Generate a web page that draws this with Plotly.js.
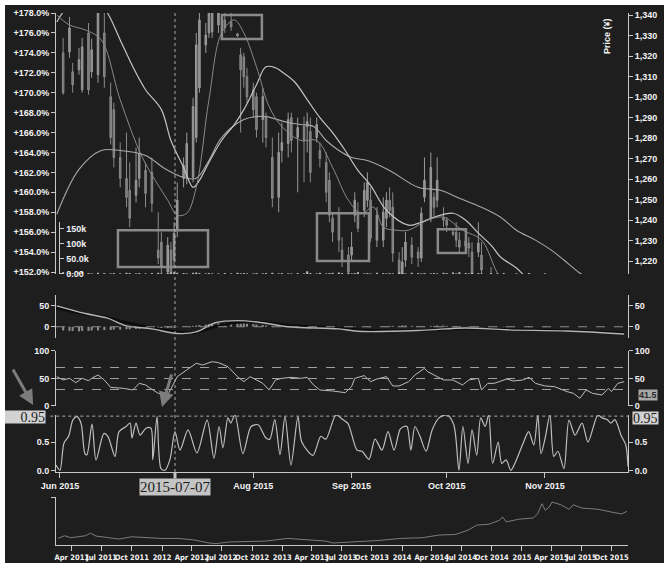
<!DOCTYPE html>
<html><head><meta charset="utf-8">
<script src="https://cdn.plot.ly/plotly-3.0.1.min.js"></script>
<style>
html,body{margin:0;padding:0;background:#ffffff;}
#chart{position:absolute;left:5px;top:5px;width:659px;height:558px;}
</style></head><body><div id="chart"></div><script>
// ---------------- DATA ----------------
const candleDates = ['2015-06-02','2015-06-04','2015-06-05','2015-06-07','2015-06-08','2015-06-10','2015-06-11','2015-06-13','2015-06-15','2015-06-17',
'2015-06-18','2015-06-20','2015-06-22','2015-06-23','2015-06-25','2015-06-26','2015-06-28','2015-06-30','2015-07-02','2015-07-03',
'2015-07-05','2015-07-06','2015-07-07','2015-07-08','2015-07-10','2015-07-11','2015-07-13','2015-07-14','2015-07-15','2015-07-17',
'2015-07-18','2015-07-19','2015-07-21','2015-07-23','2015-07-25','2015-07-27','2015-07-28','2015-07-29','2015-07-30','2015-08-01',
'2015-08-02','2015-08-04','2015-08-05','2015-08-07','2015-08-09','2015-08-10','2015-08-12','2015-08-13','2015-08-15','2015-08-17',
'2015-08-18','2015-08-19','2015-08-21','2015-08-22','2015-08-24','2015-08-25','2015-08-26','2015-08-28','2015-08-29','2015-08-31',
'2015-09-01','2015-09-02','2015-09-03','2015-09-05','2015-09-06','2015-09-07','2015-09-09','2015-09-11','2015-09-12','2015-09-13',
'2015-09-14','2015-09-16','2015-09-17','2015-09-18','2015-09-20','2015-09-22','2015-09-23','2015-09-24','2015-09-26','2015-09-27',
'2015-09-28','2015-09-30','2015-10-01','2015-10-03','2015-10-04','2015-10-05','2015-10-07','2015-10-08','2015-10-09','2015-10-11',
'2015-10-12','2015-10-15','2015-10-17','2015-10-19','2015-10-23','2015-10-27','2015-11-01'];
const candleOpen = [174.0,174.1,172.1,172.3,170.3,176.0,172.1,171.8,176.0,169.6,
168.3,163.5,161.4,160.2,159.7,161.4,162.2,162.0,154.2,155.0,
152.0,154.2,153.2,156.2,161.4,161.5,161.5,165.5,170.5,174.8,
176.0,176.1,176.8,177.3,177.1,175.9,173.8,173.6,171.6,170.3,
169.6,167.3,167.5,163.5,159.5,164.2,164.9,167.5,165.5,166.6,
166.6,166.1,165.5,164.2,163.0,161.2,157.4,157.9,154.2,153.7,
153.7,157.7,158.0,158.2,159.2,159.2,155.2,155.2,157.4,159.2,
158.5,153.2,151.7,153.2,154.7,154.0,153.4,159.5,157.4,159.5,
159.2,157.5,157.2,156.0,156.0,155.2,154.6,154.9,154.0,154.0,
153.7,151.5,150.5,149.5,148.5,148.0,147.0];
const candleClose = [170.0,176.5,170.8,173.3,174.6,170.3,174.3,178.0,171.6,165.5,
163.5,161.4,159.5,157.4,161.2,163.9,159.9,158.9,153.4,152.5,
154.7,151.7,155.9,159.2,162.7,164.9,168.6,174.8,177.3,175.8,
178.0,178.0,178.0,176.5,176.6,175.7,172.3,171.6,169.6,168.3,
166.3,169.6,165.5,159.4,164.0,165.0,167.3,165.2,166.5,165.2,
167.1,162.0,166.8,163.4,160.0,157.7,156.0,155.2,153.2,152.0,
154.5,159.2,156.4,160.2,161.0,155.4,157.7,158.0,159.2,158.2,
153.9,151.7,153.0,155.0,153.5,153.4,157.9,161.2,162.5,158.5,
161.2,157.2,156.7,155.8,155.2,154.5,155.1,154.4,151.5,154.9,
152.2,150.0,149.2,148.0,147.5,147.0,146.0];
const candleHigh = [175.5,177.6,173.0,174.5,175.5,177.0,175.4,179.0,178.5,171.0,
169.0,165.0,166.0,163.0,164.5,165.5,163.0,163.5,158.0,156.0,
155.5,155.0,157.0,161.0,163.5,166.0,169.5,176.0,178.5,177.0,
179.0,179.5,179.5,178.5,178.2,176.0,174.5,174.0,172.5,171.0,
170.0,170.5,168.0,165.5,166.0,167.0,168.0,168.0,167.5,167.6,
168.0,167.5,167.5,165.0,164.0,162.0,158.0,158.5,155.5,154.5,
156.0,160.0,159.0,161.0,162.0,160.5,158.5,159.5,160.0,160.5,
160.0,154.0,154.5,156.0,155.5,154.5,158.5,163.5,164.0,160.0,
163.5,158.5,157.5,156.2,157.0,156.0,156.0,155.5,155.0,157.0,
155.0,152.5,151.0,150.5,151.3,150.0,151.5];
const candleLow = [169.8,173.5,170.0,171.8,170.0,169.8,171.5,171.0,170.5,164.8,
162.5,160.5,158.5,156.5,159.0,160.5,158.5,158.0,152.8,151.8,
151.0,150.5,152.5,155.5,160.5,160.8,161.0,165.0,170.0,174.0,
175.5,175.5,176.0,176.0,176.2,175.6,166.0,170.5,169.0,167.5,
165.5,165.0,164.5,158.5,158.0,163.0,163.5,164.0,160.0,161.0,
164.0,161.0,165.0,162.5,159.0,157.0,155.0,154.0,152.5,151.0,
153.0,157.0,156.0,157.5,158.5,155.0,154.5,154.5,156.5,157.5,
153.0,150.5,150.0,152.5,152.8,152.5,153.0,159.0,157.0,157.5,
158.5,156.5,156.0,155.6,154.5,154.0,154.0,153.5,150.5,153.5,
151.0,149.5,148.5,147.5,147.0,146.5,145.5];
const volume = [6000,4000,3000,5000,8000,3000,2000,4000,3000,2000,
3000,2000,4000,3000,2000,3000,2000,3000,4000,2000,
3000,5000,6000,4000,3000,2000,4000,5000,3000,2000,
3000,2000,2000,3000,2000,4000,2000,3000,2000,2000,
3000,2000,3000,4000,2000,3000,2000,2000,3000,2000,
9000,3000,2000,4000,2000,3000,4000,5000,3000,4000,
2000,3000,6000,2000,3000,2000,4000,3000,2000,3000,
2000,5000,3000,2000,4000,3000,2000,3000,2000,3000,
2000,4000,3000,5000,2000,6000,3000,2000,4000,3000,
2000,3000,2000,3000,2000,3000,2000];
const macdHist = [-9,-10,-10,-11,-10,-10,-9,-9,-8,-8,
-7,-7,-6,-6,-5,-5,-4,-4,-4,-3,
-3,-2,-2,-1,0,1,2,3,4,5,
6,7,8,8,9,9,8,8,7,6,
5,4,3,2,1,0,-1,-2,-3,-3,
-4,-4,-3,-3,-2,-2,-1,-1,0,0,
1,1,0,0,-1,-1,0,1,1,2,
2,2,3,3,2,2,1,1,2,2,
3,3,2,1,1,0,0,-1,-1,0,
0,0,-1,-1,0,-1,-1];

const ma20Dates = ['2015-05-31','2015-06-02','2015-06-07','2015-06-12','2015-06-16','2015-06-20','2015-06-24','2015-06-28','2015-07-03','2015-07-06',
'2015-07-10','2015-07-13','2015-07-15','2015-07-18','2015-07-22','2015-07-26','2015-07-29','2015-08-02','2015-08-05','2015-08-08',
'2015-08-10','2015-08-14','2015-08-18','2015-08-22','2015-08-26','2015-08-30','2015-09-03','2015-09-07','2015-09-12','2015-09-19',
'2015-09-23','2015-09-27','2015-10-03','2015-10-07','2015-10-11','2015-10-15','2015-10-18','2015-10-23','2015-10-26','2015-11-01',
'2015-11-18','2015-11-27'];
const ma20Values = [177.1,178.1,179.8,179.6,178.0,175.3,172.6,170.3,168.3,165.2,
162.5,160.5,161.2,163.0,165.2,166.8,168.3,170.8,172.6,172.5,
172.1,171.1,169.3,167.5,166.0,164.2,162.2,160.7,158.2,156.7,
157.0,157.5,157.9,157.2,155.9,154.7,153.5,152.4,151.5,150.2,
147.2,146.2];
const ma50Dates = ['2015-05-31','2015-06-07','2015-06-14','2015-06-20','2015-06-28','2015-07-04','2015-07-10','2015-07-14','2015-07-18','2015-07-22',
'2015-07-29','2015-08-02','2015-08-05','2015-08-12','2015-08-16','2015-08-20','2015-08-24','2015-08-28','2015-09-01','2015-09-06',
'2015-09-13','2015-09-22','2015-09-29','2015-10-05','2015-10-12','2015-10-18','2015-10-23','2015-10-29','2015-11-03','2015-11-07',
'2015-11-12','2015-11-18','2015-11-27'];
const ma50Values = [157.8,162.3,164.2,164.2,163.7,162.4,161.5,161.4,163.2,165.5,
167.3,167.6,167.6,167.0,166.8,166.6,165.2,164.2,163.5,163.2,
162.2,160.5,160.2,159.4,158.5,157.5,156.2,155.2,154.2,153.2,
151.9,150.7,149.2];
const ma5Dates = ['2015-05-31','2015-06-04','2015-06-09','2015-06-14','2015-06-20','2015-06-27','2015-07-05','2015-07-08','2015-07-11','2015-07-14',
'2015-07-18','2015-07-22','2015-07-26','2015-07-29','2015-08-02','2015-08-06','2015-08-10','2015-08-16','2015-08-21','2015-08-26',
'2015-08-31','2015-09-04','2015-09-08','2015-09-11','2015-09-15','2015-09-19','2015-09-25','2015-09-30','2015-10-06','2015-10-12',
'2015-10-17','2015-10-21','2015-10-30','2015-11-18','2015-11-27'];
const ma5Values = [177.8,176.8,176.3,175.3,169.3,163.5,159.2,157.7,157.9,160.5,
169.3,176.0,177.3,176.0,172.6,168.6,166.6,165.2,165.2,162.5,
159.2,157.9,158.5,156.5,156.2,156.2,157.2,157.5,156.2,155.2,
151.9,150.2,148.2,147.2,146.7];

const macdDates = ['2015-05-31','2015-06-09','2015-06-16','2015-06-22','2015-06-30','2015-07-08','2015-07-14','2015-07-20','2015-07-27','2015-08-04',
'2015-08-12','2015-08-28','2015-09-03','2015-09-23','2015-10-07','2015-10-20','2015-11-08','2015-11-26'];
const macdLine = [50,31.6,20.6,2.2,-5.1,-16.2,-12.5,9.6,14.7,9.6,0,-5.1,-11,-8.8,-2.9,-7.4,-10.3,-17.6];
const macdSignal = [45,30,22,10,-2,-12,-14,0,10,11,4,-3,-7,-9,-5,-6,-9,-15];

const rsiDates = ['2015-05-31','2015-06-02','2015-06-04','2015-06-06','2015-06-08','2015-06-10','2015-06-11','2015-06-13','2015-06-15','2015-06-17',
'2015-06-21','2015-06-24','2015-06-26','2015-06-28','2015-06-30','2015-07-02','2015-07-05','2015-07-08','2015-07-11','2015-07-14',
'2015-07-16','2015-07-19','2015-07-21','2015-07-24','2015-07-27','2015-07-29','2015-07-31','2015-08-02','2015-08-04','2015-08-06',
'2015-08-08','2015-08-10','2015-08-13','2015-08-16','2015-08-18','2015-08-20','2015-08-22','2015-08-26','2015-08-30','2015-09-01',
'2015-09-02','2015-09-05','2015-09-07','2015-09-09','2015-09-12','2015-09-14','2015-09-16','2015-09-19','2015-09-21','2015-09-24',
'2015-09-25','2015-09-27','2015-09-30','2015-10-03','2015-10-06','2015-10-08','2015-10-11','2015-10-12','2015-10-14','2015-10-16',
'2015-10-20','2015-10-22','2015-10-25','2015-10-27','2015-10-29','2015-11-01','2015-11-04','2015-11-08','2015-11-10','2015-11-12',
'2015-11-14','2015-11-16','2015-11-19','2015-11-21','2015-11-22','2015-11-24','2015-11-26'];
const rsiValues = [53.3,47.3,50.3,42.4,50.3,46.0,50.3,56.4,47.3,33.9,
32.1,29.1,41.2,38.2,30.3,23.0,20.0,53.3,65.5,77.6,
74.5,80.6,78.8,71.5,53.3,44.2,53.3,47.3,41.2,29.1,
47.3,50.3,52.1,50.3,52.1,38.2,29.1,27.3,24.2,35.2,
50.3,55.2,44.2,49.1,53.3,36.4,36.4,44.2,56.4,68.5,
62.4,56.4,47.3,47.3,38.2,47.3,50.3,29.1,41.2,41.2,
49.1,45.5,47.3,52.1,41.2,36.4,35.2,26.1,23.0,13.9,
29.1,23.0,20.0,32.1,26.1,41.2,44.2];
const rsiLevels = [70,50,30];

const oscDates = ['2015-05-30 18:00','2015-06-01 00:00','2015-06-02 06:00','2015-06-03 17:00','2015-06-05 03:00','2015-06-06 09:00','2015-06-07 15:00','2015-06-08 21:00','2015-06-09 12:00','2015-06-11 03:00',
'2015-06-12 09:00','2015-06-14 21:00','2015-06-16 03:00','2015-06-18 09:00','2015-06-19 15:00','2015-06-21 21:00','2015-06-23 03:00','2015-06-23 17:00','2015-06-25 00:00','2015-06-26 06:00',
'2015-06-28 03:00','2015-06-29 17:00','2015-06-30 07:00','2015-07-01 15:00','2015-07-02 21:00','2015-07-04 03:00','2015-07-05 17:00','2015-07-07 07:00','2015-07-08 21:00','2015-07-11 10:00',
'2015-07-14 05:00','2015-07-17 10:00','2015-07-19 14:00','2015-07-21 05:00','2015-07-22 10:00','2015-07-24 00:00','2015-07-24 21:00','2015-07-26 05:00','2015-07-28 17:00','2015-07-31 07:00',
'2015-08-02 12:00','2015-08-05 00:00','2015-08-06 05:00','2015-08-07 19:00','2015-08-09 10:00','2015-08-11 00:00','2015-08-12 21:00','2015-08-15 02:00','2015-08-16 07:00','2015-08-19 19:00',
'2015-08-22 07:00','2015-08-23 21:00','2015-08-27 02:00','2015-08-29 00:00','2015-08-30 21:00','2015-09-02 17:00','2015-09-04 07:00','2015-09-06 12:00','2015-09-08 10:00','2015-09-10 14:00',
'2015-09-12 12:00','2015-09-14 10:00','2015-09-16 07:00','2015-09-17 12:00','2015-09-18 12:00','2015-09-19 17:00','2015-09-21 00:00','2015-09-22 14:00','2015-09-24 12:00','2015-09-26 10:00',
'2015-09-28 14:00','2015-10-01 03:00','2015-10-03 06:00','2015-10-04 21:00','2015-10-06 03:00','2015-10-07 18:00','2015-10-09 00:00','2015-10-10 12:00','2015-10-11 18:00','2015-10-13 03:00',
'2015-10-14 06:00','2015-10-15 12:00','2015-10-17 06:00','2015-10-18 09:00','2015-10-19 18:00','2015-10-21 06:00','2015-10-22 18:00','2015-10-25 03:00','2015-10-26 21:00','2015-10-28 12:00',
'2015-10-29 18:00','2015-10-30 18:00','2015-11-01 00:00','2015-11-02 14:00','2015-11-03 19:00','2015-11-05 02:00','2015-11-07 00:00','2015-11-08 14:00','2015-11-10 12:00','2015-11-12 17:00',
'2015-11-14 14:00','2015-11-17 17:00','2015-11-19 00:00','2015-11-20 14:00','2015-11-21 19:00','2015-11-23 02:00','2015-11-25 00:00','2015-11-26 12:00','2015-11-27 05:00'];
const oscValues = [0.10,0.01,0.48,0.60,0.89,0.94,0.83,0.30,0.28,0.81,
0.19,0.65,0.60,0.25,0.68,0.77,0.83,0.57,0.83,0.62,
0.74,0.74,0.19,0.94,0.04,0.01,0.20,0.68,0.36,0.71,
0.31,0.88,0.22,0.77,0.40,0.92,0.83,0.97,0.30,0.77,
0.80,0.57,0.55,0.89,0.28,0.94,0.10,0.94,0.50,0.27,
0.60,0.55,0.97,0.90,0.82,0.36,0.34,0.20,0.55,0.36,
0.68,0.36,0.72,0.77,0.77,0.36,0.77,0.60,0.34,0.71,
0.92,0.97,0.80,0.01,0.77,0.13,0.71,0.27,0.92,0.77,
0.97,0.13,0.50,0.13,0.19,0.01,0.16,0.48,0.68,0.45,
0.97,0.30,0.55,0.97,0.25,0.34,0.04,0.88,0.62,0.83,
0.50,0.97,0.92,0.89,0.83,0.89,0.62,0.45,0.07];

const navDates = ['2011-02-18','2011-03-10','2011-03-29','2011-04-17','2011-05-13','2011-05-28','2011-06-14','2011-07-16','2011-08-23','2011-10-01',
'2011-11-08','2011-12-29','2012-02-19','2012-04-10','2012-05-18','2012-06-13','2012-07-21','2012-09-10','2012-11-14','2013-01-17',
'2013-03-09','2013-05-12','2013-06-06','2013-07-15','2013-09-04','2013-10-25','2013-12-28','2014-03-03','2014-04-23','2014-06-13',
'2014-07-21','2014-08-16','2014-09-23','2014-10-25','2014-11-03','2014-11-14','2014-12-22','2015-02-05','2015-02-18','2015-03-03',
'2015-03-13','2015-03-25','2015-04-03','2015-04-29','2015-05-25','2015-06-06','2015-07-02','2015-08-22','2015-09-29','2015-11-01','2015-11-17'];
const navValues = [20,28,22,25,28,36,27,23,18,25,
22,20,20,15,7,4,9,10,12,20,
17,12,6,8,12,14,20,22,30,32,
45,60,63,75,85,70,78,82,95,125,
105,115,130,122,108,122,112,108,100,94,102];

const pctTicks = [152,154,156,158,160,162,164,166,168,170,172,174,176,178];
const pctTickText = ['+152.0%','+154.0%','+156.0%','+158.0%','+160.0%','+162.0%','+164.0%','+166.0%','+168.0%','+170.0%','+172.0%','+174.0%','+176.0%','+178.0%'];
const volTickVals = [0,50000,100000,150000];
const volTickText = ['0.00','50.0k','100k','150k'];
const oscTickVals = ['2015-06-01','2015-08-01','2015-09-01','2015-10-01','2015-11-01'];
const oscTickText = ['Jun 2015','Aug 2015','Sep 2015','Oct 2015','Nov 2015'];
const navTickVals = ['2011-04-01','2011-07-01','2011-10-01','2012-01-01','2012-04-01','2012-07-01','2012-10-01','2013-01-01','2013-04-01','2013-07-01',
'2013-10-01','2014-01-01','2014-04-01','2014-07-01','2014-10-01','2015-01-01','2015-04-01','2015-07-01','2015-10-01'];
const navTickText = ['Apr 2011','Jul 2011','Oct 2011','2012','Apr 2012','Jul 2012','Oct 2012','2013','Apr 2013','Jul 2013',
'Oct 2013','2014','Apr 2014','Jul 2014','Oct 2014','2015','Apr 2015','Jul 2015','Oct 2015'];
const cursorDate = '2015-07-07 07:00';
const cursorLabel = '2015-07-07';
const oscCursorValue = 0.95;
const rsiCursorLabel = '41.5';
// highlight boxes drawn on the price panel: [start, end, upper %, lower %]
const highlightBoxes = [
  ['2015-06-19 07:00','2015-07-17 17:00',156.2,152.5],
  ['2015-07-22 02:00','2015-08-03 17:00',177.8,175.4],
  ['2015-08-21 02:00','2015-09-06 12:00',157.9,153.1],
  ['2015-09-28 05:00','2015-10-07 02:00',156.3,153.9]
];

// ---------------- STYLE ----------------
const BG = '#1e1e1e', AX = '#c8c8c8', TXT = '#f2f2f2';
const FONT = 'Liberation Sans, Arial, sans-serif';
const tickFont = {family: FONT, size: 9, color: TXT, weight: 'bold'};
const navFont = {family: 'Liberation Sans Narrow, DejaVu Sans Condensed, Liberation Sans, sans-serif', size: 7.5, color: TXT, weight: 'bold'};
function yax(extra){
  return Object.assign({showgrid:false, zeroline:false, showline:true, linecolor:AX, linewidth:1,
    ticks:'outside', ticklen:4, tickcolor:AX, tickfont:tickFont, fixedrange:true}, extra);
}
const D_MAIN=[0.5094,1], D_VOL=[0.5094,0.607], D_MACD=[0.3891,0.4699], D_RSI=[0.2613,0.3647], D_OSC=[0.1372,0.2444], D_NAV=[0,0.09];
const R_MACD=[-27,76], R_RSI=[0,100], R_OSC=[-0.02,0.97];

const traces = [
  {type:'candlestick', x:candleDates, open:candleOpen, high:candleHigh, low:candleLow, close:candleClose,
   xaxis:'x', yaxis:'y', whiskerwidth:0, hoverinfo:'skip',
   increasing:{line:{color:'#9a9a9a', width:1}, fillcolor:'#8e8e8e'},
   decreasing:{line:{color:'#8a8a8a', width:1}, fillcolor:'#767676'}},
  {type:'scatter', mode:'lines', x:ma50Dates, y:ma50Values, xaxis:'x', yaxis:'y', line:{color:'#a8a8a8', width:1.1, shape:'spline'}, hoverinfo:'skip'},
  {type:'scatter', mode:'lines', x:ma20Dates, y:ma20Values, xaxis:'x', yaxis:'y', line:{color:'#c4c4c4', width:1.2, shape:'spline'}, hoverinfo:'skip'},
  {type:'scatter', mode:'lines', x:ma5Dates, y:ma5Values, xaxis:'x', yaxis:'y', line:{color:'#8a8a8a', width:1, shape:'spline'}, hoverinfo:'skip'},
  {type:'scatter', x:[], y:[], xaxis:'x', yaxis:'y2', hoverinfo:'skip'},
  {type:'bar', x:candleDates, y:volume, xaxis:'x', yaxis:'y3', marker:{color:'#bdbdbd'}, hoverinfo:'skip'},
  {type:'bar', x:candleDates, y:macdHist, xaxis:'x', yaxis:'y4', marker:{color:'#8c8c8c'}, hoverinfo:'skip'},
  {type:'scatter', mode:'lines', x:macdDates, y:macdSignal, xaxis:'x', yaxis:'y4', line:{color:'#0c0c0c', width:2.5, shape:'spline'}, hoverinfo:'skip'},
  {type:'scatter', mode:'lines', x:macdDates, y:macdLine, xaxis:'x', yaxis:'y4', line:{color:'#b4b4b4', width:1.4, shape:'spline'}, hoverinfo:'skip'},
  {type:'scatter', x:[], y:[], xaxis:'x', yaxis:'y5', hoverinfo:'skip'},
  {type:'scatter', mode:'lines', x:rsiDates, y:rsiValues, xaxis:'x', yaxis:'y6', line:{color:'#bdbdbd', width:1}, hoverinfo:'skip'},
  {type:'scatter', x:[], y:[], xaxis:'x', yaxis:'y7', hoverinfo:'skip'},
  {type:'scatter', mode:'lines', x:oscDates, y:oscValues, xaxis:'x', yaxis:'y8', line:{color:'#bdbdbd', width:1.2, shape:'spline', smoothing:0.8}, hoverinfo:'skip'},
  {type:'scatter', x:[], y:[], xaxis:'x', yaxis:'y9', hoverinfo:'skip'},
  {type:'scatter', mode:'lines', x:navDates, y:navValues, xaxis:'x2', yaxis:'y10', line:{color:'#7c7c7c', width:1}, hoverinfo:'skip'}
];

const shapes = [];
highlightBoxes.forEach(b => shapes.push({type:'rect', xref:'x', yref:'y', x0:b[0], x1:b[1], y0:b[3], y1:b[2],
  line:{color:'#8a8a8a', width:2.5}, fillcolor:'rgba(0,0,0,0)'}));
rsiLevels.forEach(v => shapes.push({type:'line', xref:'paper', yref:'y6', x0:0, x1:1, y0:v, y1:v,
  line:{color:'#a0a0a0', width:1.2, dash:'dash'}}));
shapes.push({type:'line', xref:'paper', yref:'y4', x0:0, x1:1, y0:0, y1:0, line:{color:'#8a8a8a', width:1.2, dash:'dash'}});
shapes.push({type:'line', xref:'paper', yref:'y8', x0:-0.01, x1:1.01, y0:oscCursorValue, y1:oscCursorValue, line:{color:'#aaaaaa', width:1, dash:'dot'}});
shapes.push({type:'line', xref:'x', yref:'paper', x0:cursorDate, x1:cursorDate, y0:D_OSC[0], y1:1, line:{color:'#aaaaaa', width:1, dash:'dot'}});

const labelFont = {family:'Liberation Serif, DejaVu Serif, serif', size:14, color:'#1c1c1c'};
const annotations = [
  {xref:'paper', yref:'paper', x:0.962, y:0.995, text:'Price (¥)', textangle:-90, showarrow:false,
   xanchor:'center', yanchor:'top', font:{family:FONT, size:9, color:TXT, weight:'bold'}},
  {xref:'paper', yref:'paper', x:-0.040, y:0.263, ax:-21, ay:-37, axref:'pixel', ayref:'pixel', text:'', showarrow:true,
   arrowhead:2, arrowsize:1, arrowwidth:3, arrowcolor:'#7c7c7c'},
  {xref:'paper', yref:'paper', x:0.1853, y:0.2594, ax:10, ay:-34, axref:'pixel', ayref:'pixel', text:'', showarrow:true,
   arrowhead:2, arrowsize:1, arrowwidth:3, arrowcolor:'#7c7c7c'},
  {xref:'x', yref:'paper', x:cursorDate, y:D_OSC[0], text:cursorLabel, showarrow:true, ax:0, ay:15,
   arrowhead:0, arrowwidth:3, arrowcolor:'#c4c4c4', bgcolor:'#c4c4c4', borderpad:0, font:{family:'Liberation Serif, DejaVu Serif, serif', size:15, color:'#1c1c1c'}},
  {xref:'paper', yref:'y8', x:-0.0175, y:oscCursorValue, yshift:-1, text:'0.95', showarrow:false, xanchor:'right', yanchor:'middle',
   bgcolor:'#d2d2d2', borderpad:0, width:40, height:12, align:'right', font:labelFont},
  {xref:'paper', yref:'y8', x:1.0075, y:oscCursorValue, yshift:-1.5, text:'0.95', showarrow:false, xanchor:'left', yanchor:'middle',
   bgcolor:'#d2d2d2', borderpad:0, height:12, align:'left', font:labelFont},
  {xref:'paper', yref:'y6', x:1.018, y:20, text:rsiCursorLabel, showarrow:false, xanchor:'left', yanchor:'middle',
   bgcolor:'#a8a8a8', borderpad:0, height:10, align:'left', font:{family:FONT, size:9, color:'#2a2a2a', weight:'bold'}}
];

const layout = {
  width:659, height:558, margin:{l:51, r:36, t:8, b:18},
  paper_bgcolor:BG, plot_bgcolor:'rgba(0,0,0,0)', showlegend:false, hovermode:false, bargap:0.35,
  xaxis:{type:'date', domain:[0,1], anchor:'y8', range:['2015-05-30 18:00','2015-11-27 05:00'],
    rangeslider:{visible:false}, showgrid:false, zeroline:false, showline:true, linecolor:AX,
    ticks:'outside', ticklen:5, tickcolor:AX, tickvals:oscTickVals, ticktext:oscTickText, tickfont:tickFont, tickangle:0, fixedrange:true},
  xaxis2:{type:'date', domain:[0,1], anchor:'y10', range:['2011-02-12','2015-11-20'],
    showgrid:false, zeroline:false, showline:true, linecolor:AX, ticks:'outside', ticklen:5, tickcolor:AX,
    tickvals:navTickVals, ticktext:navTickText, tickfont:navFont, tickangle:0, fixedrange:true},
  yaxis: yax({domain:D_MAIN, range:[151.8,178], tickvals:pctTicks, ticktext:pctTickText}),
  yaxis2: yax({overlaying:'y', side:'right', range:[1213.7,1341], dtick:10, tick0:1220, tickformat:',d'}),
  yaxis3: yax({domain:D_VOL, anchor:'free', position:0.006, side:'right', range:[0,172000], tickvals:volTickVals, ticktext:volTickText}),
  yaxis4: yax({domain:D_MACD, range:R_MACD, tickvals:[0,50]}),
  yaxis5: yax({overlaying:'y4', side:'right', range:R_MACD, tickvals:[0,50]}),
  yaxis6: yax({domain:D_RSI, range:R_RSI, tickvals:[0,50,100]}),
  yaxis7: yax({overlaying:'y6', side:'right', range:R_RSI, tickvals:[0,50,100]}),
  yaxis8: yax({domain:D_OSC, range:R_OSC, tickvals:[0,0.5], ticktext:['0.0','0.5']}),
  yaxis9: yax({overlaying:'y8', side:'right', range:R_OSC, tickvals:[0,0.5], ticktext:['0.0','0.5']}),
  yaxis10: yax({domain:D_NAV, anchor:'x2', range:[0,145], showticklabels:false, tickvals:[145]}),
  shapes: shapes,
  annotations: annotations
};
Plotly.newPlot('chart', traces, layout, {staticPlot:true, displayModeBar:false});
</script></body></html>
